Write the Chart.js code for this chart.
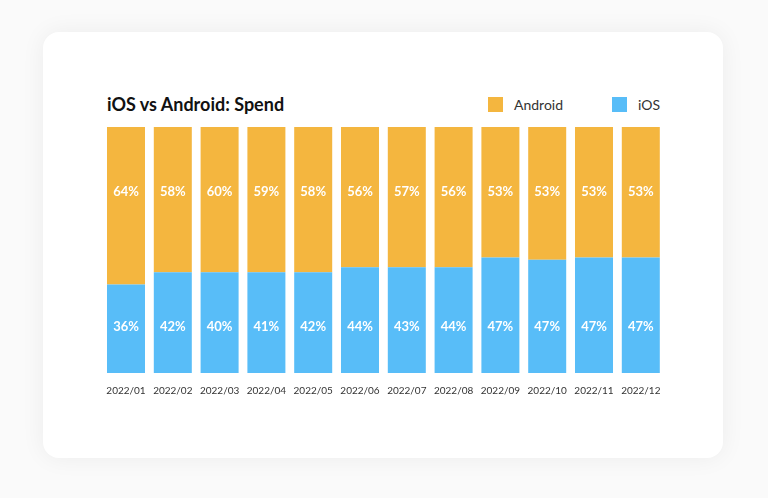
<!DOCTYPE html>
<html>
<head>
<meta charset="utf-8">
<script src="https://cdn.jsdelivr.net/npm/chart.js@4/dist/chart.umd.min.js"></script>
<style>
html,body{margin:0;padding:0;background:#fafafa;}
#wrap{position:relative;width:768px;height:498px;overflow:hidden;}
.card{position:absolute;left:43px;top:32px;width:680px;height:426px;background:#fff;border-radius:16px;box-shadow:0 0 24px rgba(0,0,0,0.06);}
.title{position:absolute;left:107px;top:93px;font-family:Lato,sans-serif;font-weight:700;font-size:18px;color:#111;margin:0;}
.legend{position:absolute;top:96px;font-family:Lato,sans-serif;font-size:14px;color:#333;display:flex;align-items:center;}
.legend i{display:inline-block;width:15px;height:15px;margin-right:11px;}
#chartBox{position:absolute;left:0;top:0;width:768px;height:498px;}
</style>
</head>
<body>
<div id="wrap">
<div class="card"></div>
<h2 class="title">iOS vs Android: Spend</h2>
<div class="legend" style="left:488px"><i style="background:#F4B63F"></i>Android</div>
<div class="legend" style="left:612px"><i style="background:#58BDF8"></i>iOS</div>
<div id="chartBox"><canvas id="spendChart"></canvas></div>
</div>

<script>
const months=["2022/01","2022/02","2022/03","2022/04","2022/05","2022/06","2022/07","2022/08","2022/09","2022/10","2022/11","2022/12"];

// bar heights as drawn
const iosShare=[36,41,41,41,41,43,43,43,47,46,47,47];
const androidShare=[64,59,59,59,59,57,57,57,53,54,53,53];

// printed labels
const iosLabels=["36%","42%","40%","41%","42%","44%","43%","44%","47%","47%","47%","47%"];
const androidLabels=["64%","58%","60%","59%","58%","56%","57%","56%","53%","53%","53%","53%"];

/* labels sit on a fixed height inside each bar */
const barLabels={
id:"barLabels",
afterDatasetsDraw(chart){
const {ctx}=chart;
const y=chart.scales.y;
ctx.save();
ctx.fillStyle="#ffffff";
ctx.font="700 13px Lato, sans-serif";
ctx.textAlign="center";
ctx.textBaseline="middle";
chart.data.datasets.forEach((ds,i)=>{
const meta=chart.getDatasetMeta(i);
const py=y.getPixelForValue(ds.labelAt);
meta.data.forEach((bar,j)=>{
ctx.fillText(ds.labels[j],bar.x,py);
});
});
ctx.restore();
}
};

new Chart(document.getElementById("spendChart"),{
type:"bar",
data:{
labels:months,
datasets:[{
label:"iOS",
data:iosShare,
labels:iosLabels,
labelAt:18.7,
backgroundColor:"#58BDF8"
},{
label:"Android",
data:androidShare,
labels:androidLabels,
labelAt:73.6,
backgroundColor:"#F4B63F"
}]
},
options:{
responsive:true,
maintainAspectRatio:false,
animation:false,
categoryPercentage:1,
barPercentage:0.812,
layout:{padding:{left:102.6,right:103.8,top:127,bottom:89}},
plugins:{
legend:{display:false},
tooltip:{enabled:false}
},
scales:{
x:{
stacked:true,
grid:{display:false,drawTicks:false},
border:{display:false},
ticks:{
color:"#333",
padding:12,
font:{family:"Lato, sans-serif",size:10}
}
},
y:{
stacked:true,
display:false,
min:0,
max:100
}
}
},
plugins:[barLabels]
});
</script>
</body>
</html>
